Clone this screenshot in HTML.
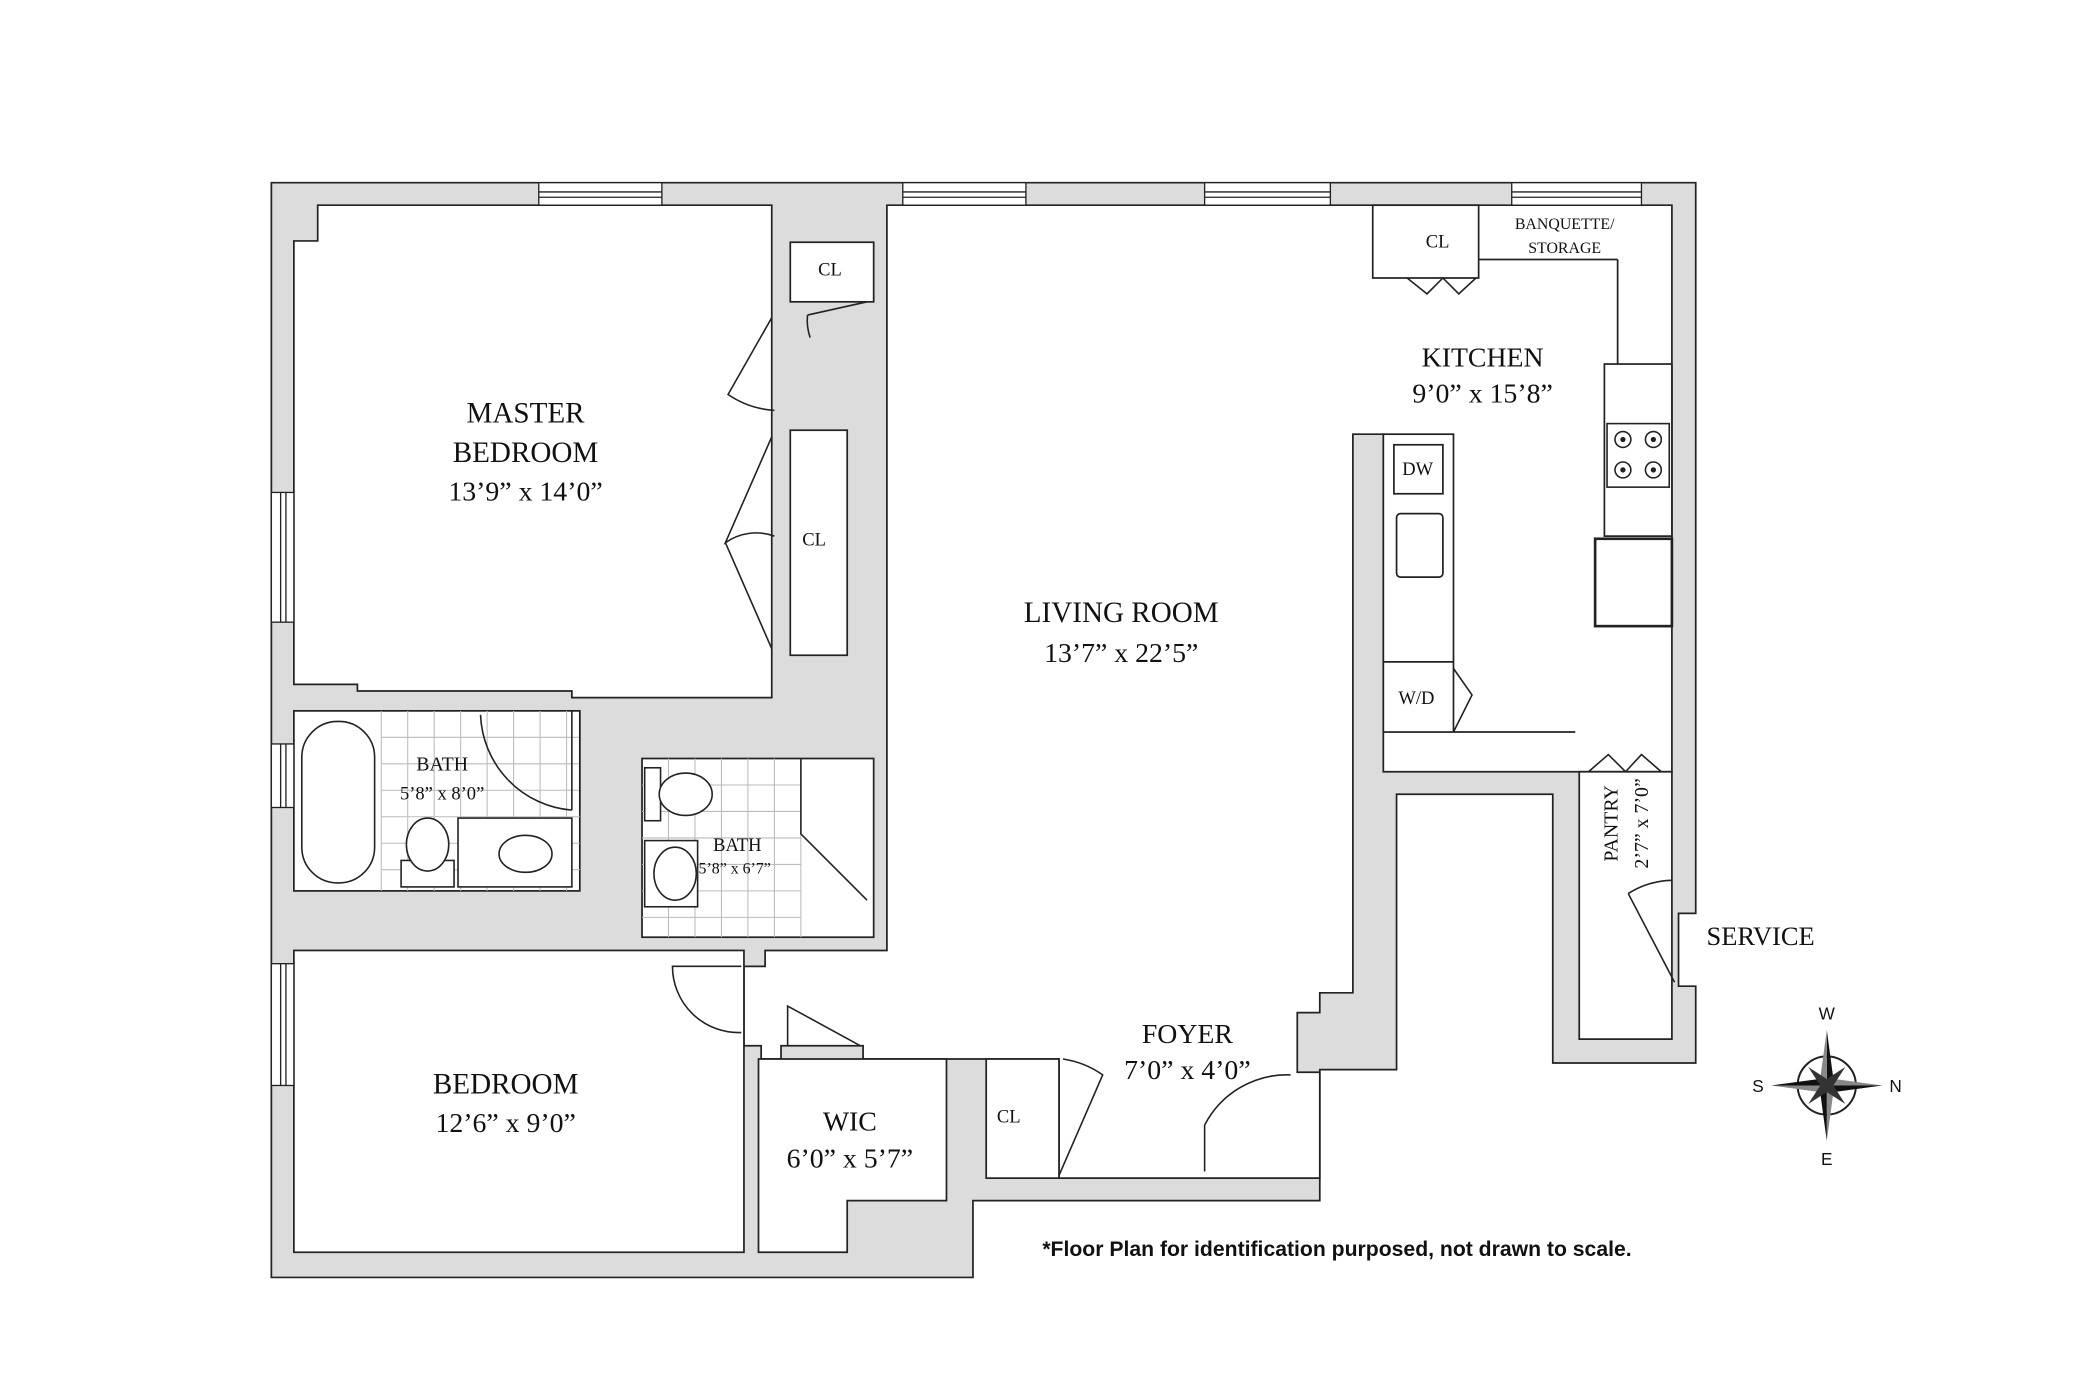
<!DOCTYPE html>
<html><head><meta charset="utf-8"><style>
html,body{margin:0;padding:0;background:#fff}
svg{display:block}
.t{font-family:"Liberation Serif",serif;fill:#111;text-anchor:middle}
</style></head><body>
<svg width="2073" height="1382" viewBox="0 0 1566 1044" preserveAspectRatio="none" xmlns="http://www.w3.org/2000/svg">
<g stroke="#222" stroke-width="1.3" stroke-linejoin="miter">
<polygon fill="#dcdcdc" points="205,138 1281,138 1281,690 1268,690 1268,745 1281,745 1281,803 1173,803 1173,600 1055,600 1055,808 997,808 997,907 735,907 735,965 205,965"/>
<polygon fill="#fff" points="240,155 583,155 583,527 432,527 432,522 270,522 270,517 222,517 222,182 240,182"/>
<polygon fill="#fff" points="670,155 1263,155 1263,583 1045,583 1045,328 1022,328 1022,750 997,750 997,765 980,765 980,810 997,810 997,890 800,890 800,800 652,800 652,790 590,790 590,800 575,800 575,790 562,790 562,730 578,730 578,718 670,718"/>
<polygon fill="#fff" points="1193,583 1263,583 1263,785 1193,785"/>
<rect fill="#fff" x="597" y="183" width="63" height="45"/>
<rect fill="#fff" x="597" y="325" width="43" height="170"/>
<rect fill="#fff" x="745" y="800" width="55" height="90"/>
<rect fill="#fff" x="1037" y="155" width="80" height="55"/>
<rect fill="#fff" x="222" y="537" width="216" height="136"/>
<rect fill="#fff" x="485" y="573" width="175" height="135"/>
<rect fill="#fff" x="222" y="718" width="340" height="228"/>
<polygon fill="#fff" points="573,800 715,800 715,907 640,907 640,946 573,946"/>
<rect fill="#fff" x="1045" y="328" width="53" height="225"/>
<rect fill="#fff" x="1212" y="275" width="51" height="130"/>
<rect fill="#fff" x="1205" y="407" width="58" height="66" stroke-width="2"/>
<line x1="1098" y1="553" x2="1190" y2="553"/>
<line x1="1117" y1="196" x2="1222" y2="196"/><line x1="1222" y1="196" x2="1222" y2="275"/>
<rect fill="#fff" x="1053" y="336" width="37" height="37"/>
<rect fill="#fff" x="1055" y="388" width="35" height="48" rx="3"/>
<line x1="1045" y1="500" x2="1098" y2="500"/>
</g>
<g fill="#fff" stroke="#222" stroke-width="1">
<rect x="407" y="138" width="93" height="17"/><line x1="407" y1="145" x2="500" y2="145"/><line x1="407" y1="149" x2="500" y2="149"/>
<rect x="682" y="138" width="93" height="17"/><line x1="682" y1="145" x2="775" y2="145"/><line x1="682" y1="149" x2="775" y2="149"/>
<rect x="910" y="138" width="95" height="17"/><line x1="910" y1="145" x2="1005" y2="145"/><line x1="910" y1="149" x2="1005" y2="149"/>
<rect x="1142" y="138" width="98" height="17"/><line x1="1142" y1="145" x2="1240" y2="145"/><line x1="1142" y1="149" x2="1240" y2="149"/>
<rect x="205" y="372" width="17" height="98"/><line x1="212" y1="372" x2="212" y2="470"/><line x1="216" y1="372" x2="216" y2="470"/>
<rect x="205" y="562" width="17" height="48"/><line x1="212" y1="562" x2="212" y2="610"/><line x1="216" y1="562" x2="216" y2="610"/>
<rect x="205" y="728" width="17" height="92"/><line x1="212" y1="728" x2="212" y2="820"/><line x1="216" y1="728" x2="216" y2="820"/>
</g>
<g stroke="#bbb" stroke-width="0.8">
<line x1="288" y1="537" x2="288" y2="673"/><line x1="308" y1="537" x2="308" y2="673"/><line x1="328" y1="537" x2="328" y2="673"/><line x1="348" y1="537" x2="348" y2="673"/><line x1="368" y1="537" x2="368" y2="673"/><line x1="388" y1="537" x2="388" y2="673"/><line x1="408" y1="537" x2="408" y2="673"/><line x1="428" y1="537" x2="428" y2="673"/>
<line x1="288" y1="557" x2="438" y2="557"/><line x1="288" y1="577" x2="438" y2="577"/><line x1="288" y1="597" x2="438" y2="597"/><line x1="288" y1="617" x2="438" y2="617"/><line x1="288" y1="637" x2="438" y2="637"/><line x1="288" y1="657" x2="438" y2="657"/>
<line x1="505" y1="573" x2="505" y2="708"/><line x1="525" y1="573" x2="525" y2="708"/><line x1="545" y1="573" x2="545" y2="708"/><line x1="565" y1="573" x2="565" y2="708"/><line x1="585" y1="573" x2="585" y2="708"/><line x1="605" y1="573" x2="605" y2="708"/>
<line x1="485" y1="593" x2="605" y2="593"/><line x1="485" y1="613" x2="605" y2="613"/><line x1="485" y1="633" x2="605" y2="633"/><line x1="485" y1="653" x2="605" y2="653"/><line x1="485" y1="673" x2="605" y2="673"/><line x1="485" y1="693" x2="605" y2="693"/>
</g>
<g fill="#fff" stroke="#222" stroke-width="1.2">
<rect x="228" y="545" width="55" height="122" rx="27"/>
<rect x="346" y="618" width="86" height="52"/><ellipse cx="397" cy="645" rx="20" ry="14"/>
<rect x="303" y="650" width="40" height="20"/><ellipse cx="323" cy="638" rx="16" ry="20"/>
<rect x="487" y="580" width="12" height="40"/><ellipse cx="518" cy="600" rx="20" ry="16"/>
<rect x="487" y="635" width="40" height="50"/><ellipse cx="510" cy="660" rx="16" ry="20"/>
<polyline fill="none" points="605,573 605,630 655,680"/>
<line x1="438" y1="537" x2="438" y2="612"/><path fill="none" d="M363,540 A75,75 0 0 0 432,612"/><line x1="432" y1="537" x2="432" y2="612"/>
<path fill="none" d="M585,310 A70,70 0 0 1 550,298 L583,240"/>
<path fill="none" d="M585,405 A40,40 0 0 0 548,410 L583,330 M548,410 L583,490"/>
<path fill="none" d="M610,238 L655,228 M610,238 A40,40 0 0 0 612,255"/>
<path fill="none" d="M560,780 A50,50 0 0 1 508,730 L560,730"/>
<path fill="none" d="M595,790 L595,760 L650,790"/>
<path fill="none" d="M800,888 L833,812 A70,70 0 0 0 803,800"/>
<path fill="none" d="M910,885 L910,850 A70,70 0 0 1 975,812"/>
<path fill="none" d="M1098,505 L1112,525 L1098,553"/>
<path fill="none" d="M1063,210 L1078,222 L1090,210 L1102,222 L1115,210"/>
<path fill="none" d="M1200,583 L1215,570 L1228,583 L1240,570 L1255,583"/>
<path fill="none" d="M1230,675 L1265,742 M1230,675 A65,65 0 0 1 1263,665"/>
</g>
<g fill="none" stroke="#222" stroke-width="1.2">
<rect x="1214" y="320" width="47" height="48"/>
<circle cx="1226" cy="332" r="6"/><circle cx="1249" cy="332" r="6"/><circle cx="1226" cy="355" r="6"/><circle cx="1249" cy="355" r="6"/>
</g>
<g fill="#222"><circle cx="1226" cy="332" r="2"/><circle cx="1249" cy="332" r="2"/><circle cx="1226" cy="355" r="2"/><circle cx="1249" cy="355" r="2"/></g>
<g class="t">
<text x="397" y="319" font-size="22">MASTER</text>
<text x="397" y="349" font-size="22">BEDROOM</text>
<text x="397" y="378" font-size="21">13’9” x 14’0”</text>
<text x="847" y="470" font-size="22">LIVING ROOM</text>
<text x="847" y="500" font-size="21">13’7” x 22’5”</text>
<text x="1120" y="277" font-size="21">KITCHEN</text>
<text x="1120" y="304" font-size="21">9’0” x 15’8”</text>
<text x="382" y="826" font-size="22">BEDROOM</text>
<text x="382" y="855" font-size="21">12’6” x 9’0”</text>
<text x="642" y="854" font-size="21">WIC</text>
<text x="642" y="882" font-size="21">6’0” x 5’7”</text>
<text x="897" y="788" font-size="21">FOYER</text>
<text x="897" y="815" font-size="21">7’0” x 4’0”</text>
<text x="1330" y="714" font-size="20">SERVICE</text>
<text x="334" y="582" font-size="15">BATH</text>
<text x="334" y="604" font-size="14">5’8” x 8’0”</text>
<text x="557" y="643" font-size="14">BATH</text>
<text x="555" y="660" font-size="12">5’8” x 6’7”</text>
<text x="627" y="208" font-size="14">CL</text>
<text x="615" y="412" font-size="14">CL</text>
<text x="762" y="848" font-size="14">CL</text>
<text x="1086" y="187" font-size="14">CL</text>
<text x="1182" y="173" font-size="12">BANQUETTE/</text>
<text x="1182" y="191" font-size="12">STORAGE</text>
<text x="1071" y="359" font-size="14">DW</text>
<text x="1070" y="532" font-size="14">W/D</text>
<text x="1222" y="622" font-size="15" transform="rotate(-90 1222 622)">PANTRY</text>
<text x="1245" y="622" font-size="15" transform="rotate(-90 1245 622)">2’7” x 7’0”</text>
</g>
<text x="1010" y="949" font-family="Liberation Sans,sans-serif" font-weight="bold" font-size="16" text-anchor="middle" fill="#111">*Floor Plan for identification purposed, not drawn to scale.</text>
<g transform="translate(1380,820)">
<circle r="22" fill="none" stroke="#222" stroke-width="1.5"/>
<polygon points="0,-42 5,-5 0,0" fill="#111"/><polygon points="0,-42 -5,-5 0,0" fill="#888"/>
<polygon points="0,42 5,5 0,0" fill="#888"/><polygon points="0,42 -5,5 0,0" fill="#111"/>
<polygon points="-42,0 -5,-5 0,0" fill="#111"/><polygon points="-42,0 -5,5 0,0" fill="#888"/>
<polygon points="42,0 5,5 0,0" fill="#111"/><polygon points="42,0 5,-5 0,0" fill="#888"/>
<polygon points="-14,-14 3,-3 -3,3" fill="#333"/><polygon points="14,14 3,-3 -3,3" fill="#333"/>
<polygon points="14,-14 3,3 -3,-3" fill="#333"/><polygon points="-14,14 3,3 -3,-3" fill="#333"/>
<g font-family="Liberation Sans,sans-serif" font-size="13" fill="#111" text-anchor="middle">
<text x="0" y="-50">W</text><text x="0" y="60">E</text><text x="-52" y="5">S</text><text x="52" y="5">N</text></g>
</g>
</svg>
</body></html>
